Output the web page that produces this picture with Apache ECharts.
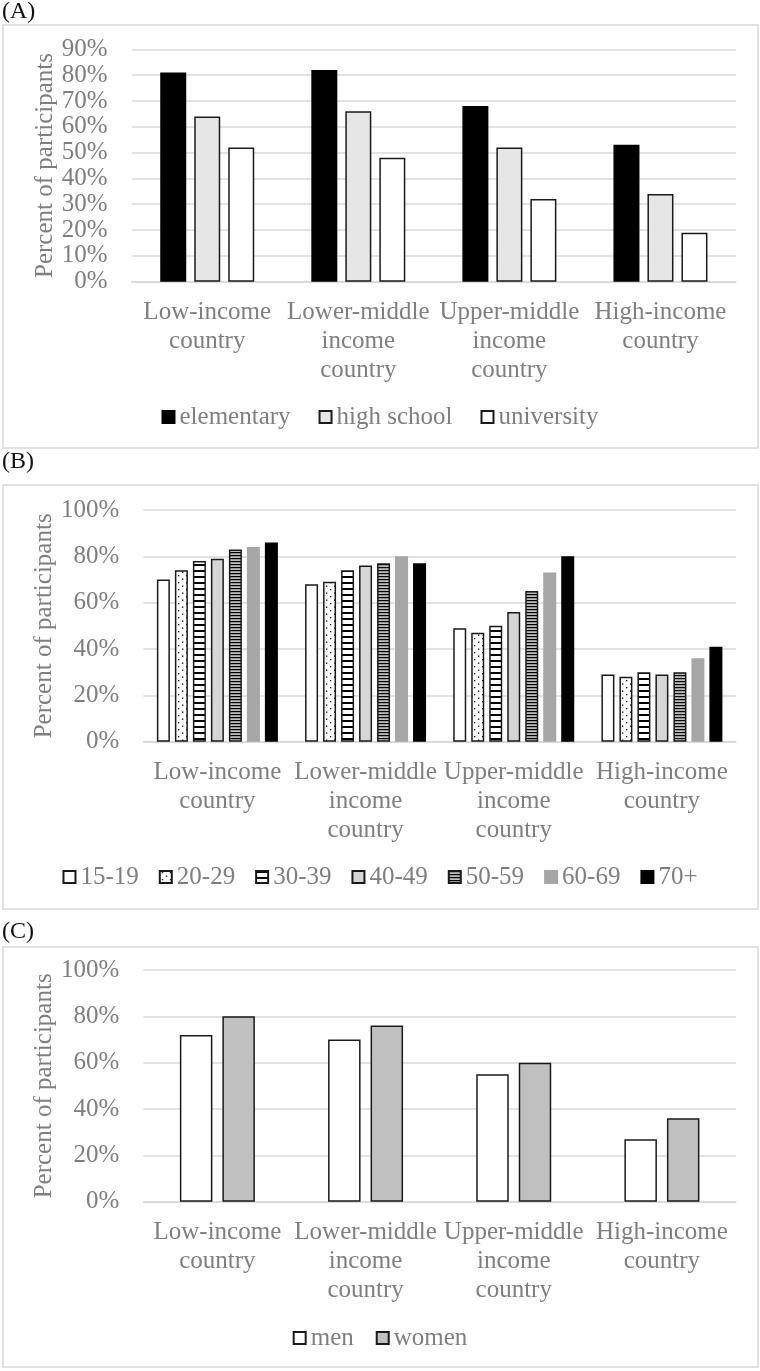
<!DOCTYPE html>
<html><head><meta charset="utf-8">
<script src="https://cdn.jsdelivr.net/npm/echarts@6/dist/echarts.min.js"></script>
<style>html,body{margin:0;padding:0;background:#fff}#c{width:760px;height:1371px}</style>
</head><body><div id="c"></div>
<script>
// ---- data ----
const categories = ['Low-income\ncountry', 'Lower-middle\nincome\ncountry', 'Upper-middle\nincome\ncountry', 'High-income\ncountry'];
const panelLabels = ['(A)', '(B)', '(C)'];
const axisName = 'Percent of participants';
// Panel A: education
const educationNames = ['elementary', 'high school', 'university'];
const elementary = [81, 82, 68, 53];
const highSchool = [64, 66, 52, 34];
const university = [52, 48, 32, 19];
// Panel B: age groups
const ageNames = ['15-19', '20-29', '30-39', '40-49', '50-59', '60-69', '70+'];
const age15to19 = [70, 68, 49, 29];
const age20to29 = [74, 69, 47, 28];
const age30to39 = [78, 74, 50, 30];
const age40to49 = [79, 76, 56, 29];
const age50to59 = [83, 77, 65, 30];
const age60to69 = [84, 80, 73, 36];
const age70plus = [86, 77, 80, 41];
// Panel C: sex
const sexNames = ['men', 'women'];
const men = [72, 70, 55, 27];
const women = [80, 76, 60, 36];
// axis ticks
const ticksA = { min: 0, max: 90, interval: 10 };
const ticksBC = { min: 0, max: 100, interval: 20 };

// ---- styles ----
const FONT = '"Liberation Serif", "Times New Roman", serif';
const FS = 25;
const GRAY = '#7f7f7f';
const GRID = '#d9d9d9';
const EDGE = '#1a1a1a';

function pattern(w, h, draw) {
  const c = document.createElement('canvas');
  c.width = w; c.height = h;
  const g = c.getContext('2d');
  draw(g, w, h);
  return { image: c, repeat: 'repeat' };
}
const dotPat = pattern(8, 7, (g) => {
  g.fillStyle = '#fff'; g.fillRect(0, 0, 8, 7);
  g.fillStyle = '#000'; g.fillRect(2, 1, 1.3, 1.3); g.fillRect(6, 4.5, 1.3, 1.3);
});
const wideStripe = pattern(6, 6, (g) => {
  g.fillStyle = '#fff'; g.fillRect(0, 0, 6, 6);
  g.fillStyle = '#000'; g.fillRect(0, 0, 6, 2);
});
const narrowStripe = pattern(3, 3, (g) => {
  g.fillStyle = '#bdbdbd'; g.fillRect(0, 0, 3, 3);
  g.fillStyle = '#000'; g.fillRect(0, 0, 3, 1.2);
});

const grids = [
  { left: 131.7, right: 24, top: 49.3, height: 232.4 },
  { left: 143.3, right: 24, top: 510, height: 231.7 },
  { left: 143.3, right: 24, top: 970, height: 231.7 }
];
const nameGaps = [74, 86, 86];
const tickSets = [ticksA, ticksBC, ticksBC];

function xAxisFor(i) {
  return {
    type: 'category', gridIndex: i, data: categories,
    axisLine: { lineStyle: { color: GRID, width: 1.5 } },
    axisTick: { show: false },
    axisLabel: { interval: 0, margin: 16, fontFamily: FONT, fontSize: FS, lineHeight: 29, color: GRAY }
  };
}
function yAxisFor(i) {
  const t = tickSets[i];
  return {
    type: 'value', gridIndex: i, min: t.min, max: t.max, interval: t.interval,
    name: axisName, nameLocation: 'middle', nameRotate: 90, nameGap: nameGaps[i],
    nameMoveOverlap: false,
    nameTextStyle: { fontFamily: FONT, fontSize: FS, color: GRAY },
    axisLine: { show: false }, axisTick: { show: false },
    axisLabel: { formatter: '{value}%', margin: 24, fontFamily: FONT, fontSize: FS, color: GRAY },
    splitLine: { lineStyle: { color: GRID, width: 1.5 } }
  };
}
function bar(name, data, idx, color, border, bw, gap) {
  return {
    type: 'bar', name, data, xAxisIndex: idx, yAxisIndex: idx,
    barWidth: bw, barGap: gap,
    itemStyle: { color, borderColor: border, borderWidth: 1.5 },
    emphasis: { disabled: true }
  };
}
const gA = 34 / 26 - 1, gB = 18 / 13 - 1, gC = 42.5 / 32.5 - 1;
const series = [
  bar(educationNames[0], elementary, 0, '#000', '#000', 26, gA),
  bar(educationNames[1], highSchool, 0, '#e6e6e6', EDGE, 26, gA),
  bar(educationNames[2], university, 0, '#fff', EDGE, 26, gA),
  bar(ageNames[0], age15to19, 1, '#fff', EDGE, 13, gB),
  bar(ageNames[1], age20to29, 1, dotPat, EDGE, 13, gB),
  bar(ageNames[2], age30to39, 1, wideStripe, EDGE, 13, gB),
  bar(ageNames[3], age40to49, 1, '#d6d6d6', EDGE, 13, gB),
  bar(ageNames[4], age50to59, 1, narrowStripe, EDGE, 13, gB),
  bar(ageNames[5], age60to69, 1, '#a6a6a6', '#a6a6a6', 13, gB),
  bar(ageNames[6], age70plus, 1, '#000', '#000', 13, gB),
  bar(sexNames[0], men, 2, '#fff', EDGE, 32.5, gC),
  bar(sexNames[1], women, 2, '#c0c0c0', EDGE, 32.5, gC)
];
function legendFor(names, top, gap) {
  return {
    data: names, top, left: 'center', icon: 'rect', itemWidth: 12, itemHeight: 12,
    itemGap: gap, selectedMode: false, padding: 0,
    textStyle: { fontFamily: FONT, fontSize: FS, lineHeight: 26, color: GRAY }
  };
}
const boxes = [[3, 25, 755, 423], [3, 485, 755, 424], [3, 947, 755, 420]];
const labelYs = [12, 462, 932];
const graphic = [];
boxes.forEach((b) => graphic.push({
  type: 'rect', z: -10, shape: { x: b[0], y: b[1], width: b[2], height: b[3] },
  style: { fill: 'none', stroke: GRID, lineWidth: 1.5 }
}));
panelLabels.forEach((t, i) => graphic.push({
  type: 'text', x: 2, y: labelYs[i],
  style: { text: t, font: '24px ' + FONT, fill: '#111', verticalAlign: 'middle' }
}));

const chart = echarts.init(document.getElementById('c'), null, { renderer: 'canvas' });
chart.setOption({
  animation: false,
  backgroundColor: '#fff',
  grid: grids,
  xAxis: [0, 1, 2].map(xAxisFor),
  yAxis: [0, 1, 2].map(yAxisFor),
  legend: [legendFor(educationNames, 404, 28), legendFor(ageNames, 864, 20), legendFor(sexNames, 1325, 22)],
  graphic,
  series
});
</script></body></html>
